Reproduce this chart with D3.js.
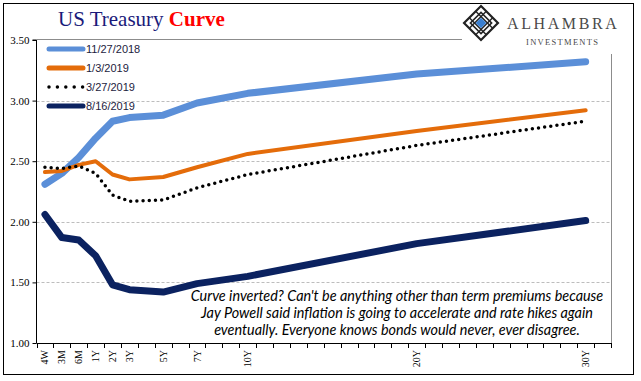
<!DOCTYPE html>
<html>
<head>
<meta charset="utf-8">
<script src="https://cdn.jsdelivr.net/npm/d3@7"></script>
<style>
  body { margin: 0; background: #fff; }
  svg { display: block; }
</style>
</head>
<body>
<div id="chart"></div>
<script>
// maturities on the curve and the yields
const tenors = ["4W", "3M", "6M", "1Y", "2Y", "3Y", "5Y", "7Y", "10Y", "20Y", "30Y"];
const dates = ["11/27/2018", "1/3/2019", "3/27/2019", "8/16/2019"];
const yields20181127 = [2.31, 2.40, 2.53, 2.69, 2.83, 2.86, 2.88, 2.98, 3.06, 3.22, 3.32];
const yields20190103 = [2.41, 2.42, 2.47, 2.50, 2.39, 2.35, 2.37, 2.45, 2.56, 2.75, 2.92];
const yields20190327 = [2.45, 2.44, 2.46, 2.40, 2.22, 2.17, 2.18, 2.28, 2.39, 2.63, 2.83];
const yields20190816 = [2.06, 1.87, 1.85, 1.72, 1.48, 1.44, 1.42, 1.49, 1.55, 1.82, 2.01];
const yTicks = [1.00, 1.50, 2.00, 2.50, 3.00, 3.50];
const note = [
  "Curve inverted? Can't be anything other than term premiums because",
  "Jay Powell said inflation is going to accelerate and rate hikes again",
  "eventually. Everyone knows bonds would never, ever disagree."
];

// the category axis has one slot per year out to 31Y
const slots = ["4W", "3M", "6M"].concat(d3.range(1, 32).map(y => y + "Y"));

const width = 641, height = 381;
const margin = { left: 36.5, right: 611, top: 40, bottom: 343 };

const series = [
  { name: dates[0], values: yields20181127, color: "#5b8fd8", width: 7, dash: null },
  { name: dates[1], values: yields20190103, color: "#e46c0a", width: 4, dash: null },
  { name: dates[2], values: yields20190327, color: "#000", width: 3.5, dash: "0,6.2" },
  { name: dates[3], values: yields20190816, color: "#0b2260", width: 7, dash: null }
];

const svg = d3.select("#chart")
  .append("svg")
  .attr("width", width)
  .attr("height", height);

svg.append("rect")
  .attr("x", 3.5).attr("y", 3.5)
  .attr("width", 630).attr("height", 371)
  .attr("fill", "#fff")
  .attr("stroke", "#000");

const x = d3.scaleBand()
  .domain(slots)
  .range([margin.left, margin.right])
  .paddingInner(0);

const y = d3.scaleLinear()
  .domain([1, 3.5])
  .range([margin.bottom, margin.top]);

// plot area border (top + right)
svg.append("path")
  .attr("d", `M${margin.left},${margin.top - 0.5}H${margin.right + 0.5}V${margin.bottom}`)
  .attr("fill", "none")
  .attr("stroke", "#8c8c8c");

// gridlines
svg.append("g")
  .selectAll("line")
  .data(yTicks.filter(d => d > 1 && d < 3.5))
  .join("line")
  .attr("x1", margin.left)
  .attr("x2", margin.right)
  .attr("y1", d => Math.round(y(d)) + 0.5)
  .attr("y2", d => Math.round(y(d)) + 0.5)
  .attr("stroke", "#bdbdbd")
  .attr("stroke-dasharray", "3,2");

// y axis
const yAxis = svg.append("g")
  .attr("transform", `translate(${margin.left},0)`)
  .call(d3.axisLeft(y).tickValues(yTicks).tickFormat(d3.format(".2f")).tickSize(4).tickPadding(3));
yAxis.select(".domain").attr("stroke", "#000").attr("d", `M-4,${margin.top}H0V${margin.bottom}`);
yAxis.selectAll("text")
  .attr("font-family", "'Liberation Serif', 'Times New Roman', serif")
  .attr("font-size", 11)
  .attr("fill", "#000");

// x axis: ticks at slot edges, labels only where there is data
const xAxis = svg.append("g");
xAxis.append("line")
  .attr("x1", margin.left).attr("x2", margin.right)
  .attr("y1", margin.bottom + 0.5).attr("y2", margin.bottom + 0.5)
  .attr("stroke", "#000");
xAxis.selectAll(".tk")
  .data(slots.concat(["end"]))
  .join("line")
  .attr("class", "tk")
  .attr("x1", (d, i) => Math.round(margin.left + i * x.bandwidth()) + 0.5)
  .attr("x2", (d, i) => Math.round(margin.left + i * x.bandwidth()) + 0.5)
  .attr("y1", margin.bottom)
  .attr("y2", margin.bottom + 5)
  .attr("stroke", "#000");
xAxis.selectAll("text")
  .data(tenors)
  .join("text")
  .attr("transform", d => `translate(${x(d) + x.bandwidth() / 2 + 3.5},${margin.bottom + 7}) rotate(-90)`)
  .attr("text-anchor", "end")
  .attr("font-family", "'Liberation Serif', 'Times New Roman', serif")
  .attr("font-size", 10)
  .text(d => d);

// curves
const line = d3.line()
  .x((d, i) => x(tenors[i]) + x.bandwidth() / 2)
  .y(d => y(d))
  .curve(d3.curveLinear);

svg.append("g")
  .selectAll("path")
  .data(series)
  .join("path")
  .attr("d", d => line(d.values))
  .attr("fill", "none")
  .attr("stroke", d => d.color)
  .attr("stroke-width", d => d.width)
  .attr("stroke-linejoin", "round")
  .attr("stroke-linecap", "round")
  .attr("stroke-dasharray", d => d.dash);

// legend
const legend = svg.append("g")
  .selectAll("g")
  .data(series)
  .join("g")
  .attr("transform", (d, i) => `translate(48,${49 + i * 19})`);
legend.append("line")
  .attr("x1", 1).attr("x2", 35)
  .attr("stroke", d => d.color)
  .attr("stroke-width", d => d.dash ? 3.5 : 5)
  .attr("stroke-linecap", "round")
  .attr("stroke-dasharray", d => d.dash ? "0,8.4" : null);
legend.append("text")
  .attr("x", 38)
  .attr("y", 4)
  .attr("font-family", "'Liberation Sans', Arial, sans-serif")
  .attr("font-size", 11)
  .attr("fill", "#1c1c40")
  .text(d => d.name);

// title
const title = svg.append("text")
  .attr("x", 58)
  .attr("y", 26)
  .attr("font-family", "'Liberation Serif', 'Times New Roman', serif")
  .attr("font-size", 21);
title.append("tspan").attr("fill", "#1a1a7a").text("US Treasury ");
title.append("tspan").attr("fill", "#ff0000").attr("font-weight", "bold").text("Curve");

// logo
const logo = svg.append("g");
logo.append("rect")
  .attr("x", 462).attr("y", 4).attr("width", 168).attr("height", 50)
  .attr("fill", "#fff");
const dm = logo.append("g").attr("transform", "translate(481,23) rotate(45)");
dm.append("rect")
  .attr("x", -12).attr("y", -12).attr("width", 24).attr("height", 24)
  .attr("fill", "none").attr("stroke", "#222").attr("stroke-width", 2.2);
dm.append("rect")
  .attr("x", -7.5).attr("y", -7.5).attr("width", 15).attr("height", 15)
  .attr("fill", "none").attr("stroke", "#222").attr("stroke-width", 1.6);
dm.selectAll(".lat")
  .data([-4.5, 4.5])
  .join("g")
  .call(g => g.append("line").attr("x1", d => d).attr("x2", d => d).attr("y1", -12).attr("y2", 12))
  .call(g => g.append("line").attr("y1", d => d).attr("y2", d => d).attr("x1", -12).attr("x2", 12))
  .selectAll("line")
  .attr("stroke", "#222").attr("stroke-width", 1.4);
dm.append("rect")
  .attr("x", -3.8).attr("y", -3.8).attr("width", 7.6).attr("height", 7.6)
  .attr("fill", "#3a7fd0");
logo.append("text")
  .attr("x", 507).attr("y", 29)
  .attr("font-family", "'Liberation Serif', 'Times New Roman', serif")
  .attr("font-size", 16)
  .attr("letter-spacing", 2.6)
  .attr("fill", "#4a4a4a")
  .text("ALHAMBRA");
logo.append("text")
  .attr("x", 526).attr("y", 45)
  .attr("font-family", "'Liberation Serif', 'Times New Roman', serif")
  .attr("font-size", 8.5)
  .attr("letter-spacing", 1.3)
  .attr("fill", "#4a4a4a")
  .text("INVESTMENTS");

// annotation
svg.append("g")
  .selectAll("text")
  .data(note)
  .join("text")
  .attr("x", 397)
  .attr("y", (d, i) => 301 + i * 17)
  .attr("text-anchor", "middle")
  .attr("font-family", "Lato, 'Open Sans', sans-serif")
  .attr("font-style", "italic")
  .attr("font-size", 14.4)
  .attr("fill", "#000")
  .text(d => d);
</script>
</body>
</html>
